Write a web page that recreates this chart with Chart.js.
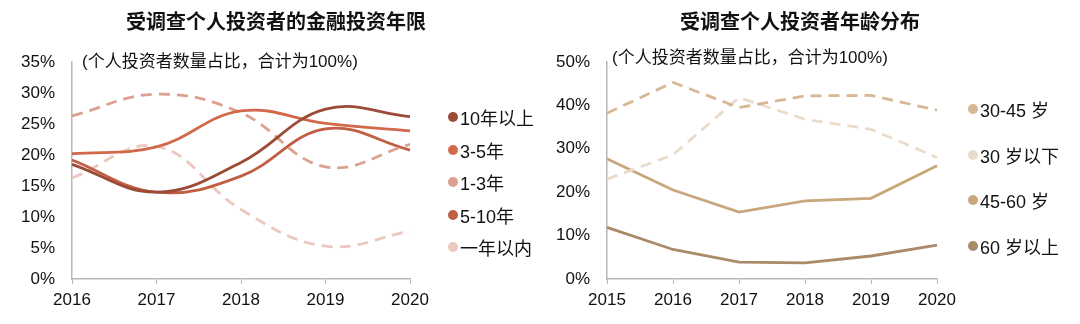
<!DOCTYPE html>
<html>
<head>
<meta charset="utf-8">
<script src="https://cdn.jsdelivr.net/npm/chart.js@4"></script>
<style>
  body { margin: 0; background: #fff; font-family: "Liberation Sans", "Noto Sans CJK SC", sans-serif; color: #111; }
  .wrap { display: flex; width: 1080px; height: 324px; }
  .panel { position: relative; width: 540px; height: 324px; }
  .title { position: absolute; top: 20px; transform: translate(-50%, -50%); font-size: 20px; font-weight: bold; white-space: nowrap; font-family: "Noto Sans CJK SC", sans-serif; }
  .legend-item { position: absolute; display: flex; align-items: center; font-size: 18px; white-space: nowrap; transform: translateY(-50%); }
  .dot { width: 10px; height: 10px; border-radius: 50%; margin-right: 2px; margin-left: -5px; }
</style>
</head>
<body>
<div class="wrap">
  <div class="panel" id="left">
    <div class="title" style="left:276px">受调查个人投资者的金融投资年限</div>
    <canvas id="tenureChart" width="540" height="324"></canvas>
  </div>
  <div class="panel" id="right">
    <div class="title" style="left:260px">受调查个人投资者年龄分布</div>
    <canvas id="ageChart" width="540" height="324"></canvas>
  </div>
</div>
<script>
// investment tenure, share of individual investors (%)
const tenureYears = ["2016", "2017", "2018", "2019", "2020"];
const tenureNames = ["10年以上", "3-5年", "1-3年", "5-10年", "一年以内"];
const tenureOver10 = [18.5, 14.0, 18.8, 27.4, 26.2];
const tenure3to5 = [20.2, 21.3, 27.1, 25.1, 23.9];
const tenure1to3 = [26.3, 29.8, 26.8, 18.1, 21.7];
const tenure5to10 = [19.2, 14.0, 16.6, 24.2, 20.8];
const tenureUnder1 = [16.3, 21.4, 11.2, 5.3, 7.7];
const tenureTicks = [0, 5, 10, 15, 20, 25, 30, 35];

// age distribution (%)
const ageYears = ["2015", "2016", "2017", "2018", "2019", "2020"];
const ageNames = ["30-45 岁", "30 岁以下", "45-60 岁", "60 岁以上"];
const age30to45 = [38.2, 45.3, 39.5, 42.2, 42.3, 38.9];
const ageUnder30 = [23.0, 28.6, 41.8, 36.8, 34.5, 28.0];
const age45to60 = [27.7, 20.5, 15.4, 18.0, 18.6, 26.1];
const ageOver60 = [11.9, 6.8, 3.9, 3.7, 5.3, 7.8];
const ageTicks = [0, 10, 20, 30, 40, 50];

const subtitle = "(个人投资者数量占比，合计为100%)";

const tenureColors = ["#9b4b36", "#d2694a", "#dd9f8f", "#c15e43", "#ecc8be"];
const tenureDashed = [false, false, true, false, true];
const ageColors = ["#d7b895", "#eadccb", "#c9a67c", "#a98b69"];
const ageDashed = [true, true, false, false];

const FONT = '"Liberation Sans", "Noto Sans CJK SC", sans-serif';

const subtitlePlugin = {
  id: "subtitle",
  afterDraw(chart, args, opts) {
    const ctx = chart.ctx;
    ctx.save();
    ctx.font = "17px " + FONT;
    ctx.fillStyle = "#111";
    ctx.textBaseline = "middle";
    ctx.fillText(subtitle, chart.chartArea.left + opts.dx, chart.chartArea.top + opts.dy);
    ctx.restore();
  }
};

function makeDatasets(names, series, colors, dashed, tension) {
  return names.map((name, i) => ({
    label: name,
    data: series[i],
    borderColor: colors[i],
    backgroundColor: colors[i],
    borderWidth: 2.8,
    borderDash: dashed[i] ? [11, 7] : [],
    pointRadius: 0,
    tension: tension,
    fill: false
  }));
}

function makeOptions(ticks, yWidth, rightPad, sub) {
  return {
    responsive: false,
    animation: false,
    layout: { padding: { left: 0, right: rightPad, top: 62, bottom: 0 } },
    plugins: { legend: { display: false }, tooltip: { enabled: false }, subtitle: sub },
    scales: {
      x: {
        grid: { display: true, drawOnChartArea: false, tickLength: 5, color: "#b8b8b8" },
        border: { display: true, color: "#b8b8b8", width: 1.5 },
        ticks: { color: "#111", font: { family: FONT, size: 17 }, padding: 6, maxRotation: 0 },
        afterFit(scale) { scale.height = 45; }
      },
      y: {
        min: ticks[0],
        max: ticks[ticks.length - 1],
        afterBuildTicks(scale) { scale.ticks = ticks.map(v => ({ value: v })); },
        grid: { display: false, drawTicks: false },
        border: { display: true, color: "#b8b8b8", width: 1.5 },
        ticks: { color: "#111", font: { family: FONT, size: 17 }, padding: 17, callback: v => v + "%" },
        afterFit(scale) { scale.width = yWidth; }
      }
    }
  };
}

new Chart(document.getElementById("tenureChart"), {
  type: "line",
  data: {
    labels: tenureYears,
    datasets: makeDatasets(tenureNames, [tenureOver10, tenure3to5, tenure1to3, tenure5to10, tenureUnder1], tenureColors, tenureDashed, 0.4)
  },
  options: makeOptions(tenureTicks, 72, 130, { dx: 10, dy: 0 }),
  plugins: [subtitlePlugin]
});

new Chart(document.getElementById("ageChart"), {
  type: "line",
  data: {
    labels: ageYears,
    datasets: makeDatasets(ageNames, [age30to45, ageUnder30, age45to60, ageOver60], ageColors, ageDashed, 0)
  },
  options: makeOptions(ageTicks, 67, 143, { dx: 5, dy: -4 }),
  plugins: [subtitlePlugin]
});

// legends to the right of each plot
function buildLegend(panelId, names, colors, x, ys) {
  const panel = document.getElementById(panelId);
  names.forEach((name, i) => {
    const item = document.createElement("div");
    item.className = "legend-item";
    item.style.left = x + "px";
    item.style.top = ys[i] + "px";
    const dot = document.createElement("span");
    dot.className = "dot";
    dot.style.background = colors[i];
    item.appendChild(dot);
    item.appendChild(document.createTextNode(name));
    panel.appendChild(item);
  });
}

buildLegend("left", tenureNames, tenureColors, 453, [117, 150, 182, 215, 247]);
buildLegend("right", ageNames, ageColors, 433, [109, 155, 200, 246]);
</script>
</body>
</html>
